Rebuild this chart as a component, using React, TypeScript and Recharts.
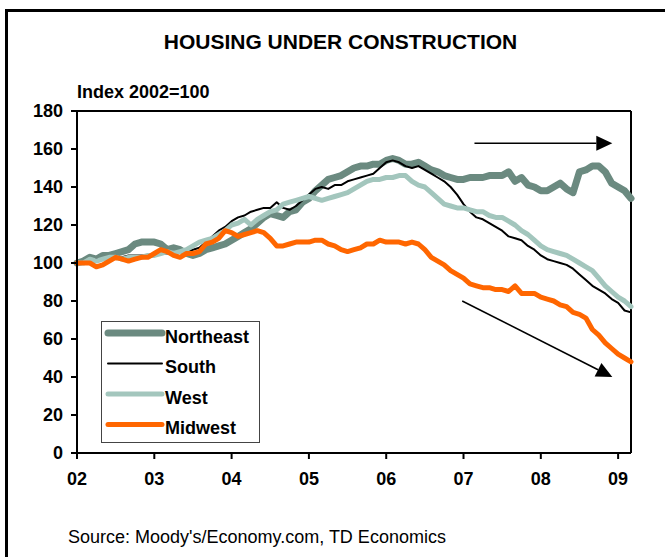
import { LineChart, Line, XAxis, YAxis, Legend, ReferenceLine } from 'recharts';

// Monthly index values, Jan 2002 .. Mar 2009 (2002 = 100)
const northeast = [
  100, 101, 103, 102, 104, 104, 105, 106, 107, 110, 111, 111,
  111, 110, 107, 108, 107, 105, 104, 105, 107, 108, 109, 110,
  112, 114, 116, 118, 121, 124, 126, 125, 124, 127, 128, 132,
  134, 138, 141, 144, 145, 146, 148, 150, 151, 151, 152, 152,
  154, 155, 154, 152, 152, 153, 151, 149, 148, 146, 145, 144,
  144, 145, 145, 145, 146, 146, 146, 148, 143, 145, 141, 140,
  138, 138, 140, 142, 139, 137, 148, 149, 151, 151, 148, 142,
  140, 138, 134,
];
const south = [
  100, 100, 101, 102, 102, 103, 103, 103, 104, 104, 104, 104,
  105, 105, 105, 105, 106, 106, 107, 108, 111, 114, 117, 119,
  122, 124, 125, 127, 128, 129, 129, 132, 129, 128, 130, 133,
  136, 139, 140, 139, 141, 141, 143, 144, 145, 146, 147, 150,
  153, 154, 153, 151, 150, 151, 149, 147, 145, 143, 140, 136,
  131, 127, 124, 123, 121, 119, 117, 114, 113, 112, 109, 107,
  104, 102, 101, 100, 99, 97, 94, 91, 88, 86, 84, 81,
  79, 75, 74,
];
const west = [
  100, 100, 102, 101, 102, 103, 103, 102, 103, 103, 103, 104,
  104, 105, 106, 105, 106, 107, 109, 111, 112, 113, 115, 117,
  120, 121, 123, 120, 123, 125, 127, 128, 131, 132, 133, 134,
  135, 134, 133, 134, 135, 136, 137, 139, 141, 143, 144, 144,
  145, 145, 146, 146, 143, 141, 140, 137, 134, 131, 130, 129,
  129, 128, 127, 127, 125, 124, 124, 122, 120, 117, 115, 112,
  109, 107, 106, 105, 104, 102, 100, 98, 96, 92, 88, 85,
  82, 80, 77,
];
const midwest = [
  100, 100, 100, 98, 99, 101, 103, 102, 101, 102, 103, 103,
  105, 107, 106, 104, 103, 105, 105, 106, 110, 111, 113, 117,
  116, 114, 115, 116, 117, 116, 113, 109, 109, 110, 111, 111,
  111, 112, 112, 110, 109, 107, 106, 107, 108, 110, 110, 112,
  111, 111, 111, 110, 111, 110, 107, 103, 101, 99, 96, 94,
  92, 89, 88, 87, 87, 86, 86, 85, 88, 84, 84, 84,
  82, 81, 80, 78, 77, 74, 73, 71, 65, 62, 58, 55,
  52, 50, 48,
];

const yearLabels = ['02', '03', '04', '05', '06', '07', '08', '09'];
const yTicks = [0, 20, 40, 60, 80, 100, 120, 140, 160, 180];

const data = northeast.map((v, i) => ({
  m: i,
  northeast: v,
  south: south[i],
  west: west[i],
  midwest: midwest[i],
}));

const xTicks = yearLabels.map((_, i) => i * 12);

const FONT = '"Liberation Sans", Arial, sans-serif';

const series = [
  { key: 'northeast', name: 'Northeast', color: '#6B8A80', width: 7 },
  { key: 'south', name: 'South', color: '#000000', width: 2 },
  { key: 'west', name: 'West', color: '#A3C6BD', width: 5 },
  { key: 'midwest', name: 'Midwest', color: '#FF6600', width: 5 },
];

// arrow annotations in data coords (month index, index value)
const arrowFlat = [{ x: 61.7, y: 163 }, { x: 83.1, y: 163 }];
const arrowDown = [{ x: 59.8, y: 80 }, { x: 83.1, y: 40 }];

function Arrow(props: any) {
  const { x1, y1, x2, y2 } = props;
  const ang = Math.atan2(y2 - y1, x2 - x1);
  const L = 16;
  const W = 7.5;
  const bx = x2 - L * Math.cos(ang);
  const by = y2 - L * Math.sin(ang);
  const nx = -Math.sin(ang) * W;
  const ny = Math.cos(ang) * W;
  return (
    <g>
      <line x1={x1} y1={y1} x2={bx} y2={by} stroke="#000" strokeWidth={1.5} />
      <polygon
        points={`${x2},${y2} ${bx + nx},${by + ny} ${bx - nx},${by - ny}`}
        fill="#000"
      />
    </g>
  );
}

function LegendBox() {
  const rows = [15, 45.5, 76, 106.5];
  return (
    <svg width={159} height={122} style={{ display: 'block' }}>
      <rect x={0.5} y={0.5} width={158} height={121} fill="#fff" stroke="#444" strokeWidth={1} />
      {series.map((s, i) => (
        <g key={s.key}>
          <line
            x1={7}
            x2={61}
            y1={rows[i] - 3}
            y2={rows[i] - 3}
            stroke={s.color}
            strokeWidth={s.width}
            strokeLinecap="round"
          />
          <text
            x={64}
            y={rows[i] + 6.5}
            fontFamily={FONT}
            fontSize={18}
            fontWeight="bold"
            fill="#000"
          >
            {s.name}
          </text>
        </g>
      ))}
    </svg>
  );
}

export default function App() {
  return (
    <div
      style={{
        position: 'fixed',
        left: 0,
        top: 0,
        width: 665,
        height: 557,
        overflow: 'hidden',
        background: '#fff',
        fontFamily: FONT,
      }}
    >
      <div
        style={{
          position: 'absolute',
          left: 5,
          top: 9,
          width: 700,
          height: 600,
          borderLeft: '3px solid #000',
          borderTop: '3px solid #000',
        }}
      />
      <svg
        width={665}
        height={557}
        style={{ position: 'absolute', left: 0, top: 0, pointerEvents: 'none' }}
      >
        <text x={340.5} y={49} textAnchor="middle" fontFamily={FONT} fontSize={21} fontWeight="bold">
          HOUSING UNDER CONSTRUCTION
        </text>
        <text x={77} y={98} fontFamily={FONT} fontSize={18} fontWeight="bold">
          Index 2002=100
        </text>
        <text x={68} y={543} fontFamily={FONT} fontSize={18}>
          Source: Moody's/Economy.com, TD Economics
        </text>
      </svg>
      <div style={{ position: 'absolute', left: 0, top: 0 }}>
        <LineChart
          width={665}
          height={557}
          data={data}
          margin={{ top: 111, right: 34, bottom: 74, left: 0 }}
        >
          <XAxis
            dataKey="m"
            type="number"
            domain={[0, 86]}
            ticks={xTicks}
            interval={0}
            height={30}
            tickFormatter={(v: number) => yearLabels[Math.round(v / 12)]}
            axisLine={{ stroke: '#000', strokeWidth: 2 }}
            tickLine={{ stroke: '#000', strokeWidth: 2 }}
            tickSize={6}
            tickMargin={13}
            tick={{ fill: '#000', fontSize: 18, fontWeight: 'bold', fontFamily: FONT }}
          />
          <YAxis
            domain={[0, 180]}
            ticks={yTicks}
            interval={0}
            width={77}
            axisLine={{ stroke: '#000', strokeWidth: 2 }}
            tickLine={{ stroke: '#000', strokeWidth: 2 }}
            tickSize={6}
            tickMargin={8}
            tick={{ fill: '#000', fontSize: 18, fontWeight: 'bold', fontFamily: FONT }}
          />
          <ReferenceLine y={180} stroke="#000" strokeWidth={2} />
          <ReferenceLine x={86} stroke="#000" strokeWidth={2} />
          {series.map((s) => (
            <Line
              key={s.key}
              type="linear"
              dataKey={s.key}
              name={s.name}
              stroke={s.color}
              strokeWidth={s.width}
              strokeLinejoin="round"
              strokeLinecap="round"
              dot={false}
              activeDot={false}
              isAnimationActive={false}
            />
          ))}
          <ReferenceLine segment={arrowFlat} shape={Arrow} ifOverflow="visible" />
          <ReferenceLine segment={arrowDown} shape={Arrow} ifOverflow="visible" />
          <Legend
            layout="horizontal"
            verticalAlign="middle"
            align="center"
            width={159}
            height={122}
            wrapperStyle={{ left: 101, top: 321, width: 159, height: 122 }}
            content={() => <LegendBox />}
          />
        </LineChart>
      </div>
    </div>
  );
}
